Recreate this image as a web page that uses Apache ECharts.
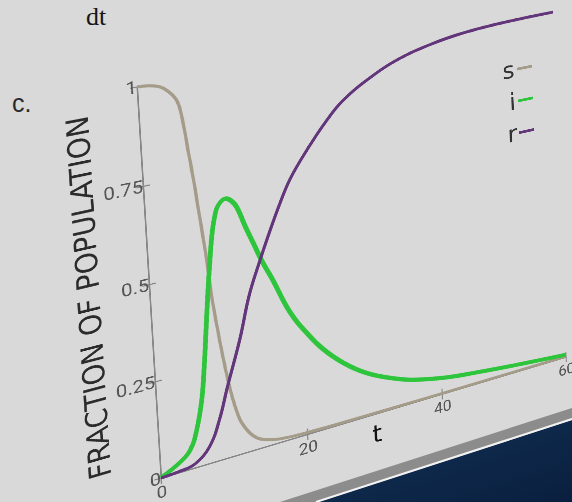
<!DOCTYPE html>
<html>
<head>
<meta charset="utf-8">
<script src="https://cdn.jsdelivr.net/npm/echarts@6/dist/echarts.min.js"></script>
<style>
html, body { margin: 0; padding: 0; width: 572px; height: 502px; overflow: hidden; background: #d9d9d9; }
#bg { position: absolute; left: 0; top: 0; }
#chart { position: absolute; left: 0; top: 0; transform-origin: 0 0; }
</style>
</head>
<body>
<svg id="bg" width="572" height="502" xmlns="http://www.w3.org/2000/svg">
  <defs>
    <linearGradient id="sea" x1="0" y1="0" x2="1" y2="1">
      <stop offset="0" stop-color="#123258"/>
      <stop offset="1" stop-color="#0a1f3e"/>
    </linearGradient>
  </defs>
  <text x="86" y="25" font-family="Liberation Serif, serif" font-size="26" fill="#151515">dt</text>
  <text x="12" y="112" font-family="Liberation Sans, Arial, sans-serif" font-size="25" fill="#2a2a2a">c.</text>
  <polygon points="280,502 572,408 572,419 316,502" fill="#8c8c8c"/>
  <polygon points="318,502 572,420 572,502" fill="url(#sea)"/>
  <line x1="316" y1="502" x2="572" y2="419" stroke="#f2f2f2" stroke-width="2"/>
</svg>
<div id="chart"></div>
<script>
// ---- data ----
const xTicks = [0, 20, 40, 60];
const yTicks = [0, 0.25, 0.5, 0.75, 1];

const tS = [0, 2.5, 4, 5, 5.5, 6, 6.5, 7, 7.5, 8, 8.5, 9, 9.5, 10, 10.5, 11, 12, 13, 14, 16, 20, 30, 40, 50, 60];
const sVals = [1, 0.993, 0.973, 0.945, 0.90, 0.82, 0.74, 0.645, 0.55, 0.43, 0.345, 0.27, 0.205, 0.152, 0.112, 0.083, 0.05, 0.03, 0.02, 0.01, 0.005, 0.003, 0.002, 0.002, 0.002];

const tI = [0, 2.5, 4, 5, 5.9, 6.5, 7, 7.5, 8, 8.5, 9, 9.5, 10.5, 11.3, 12, 13, 14, 15, 16.3, 18.4, 20.6, 23.3, 26.5, 29.7, 33.6, 36, 40.8, 46, 51.3, 56.8, 60];
const iVals = [0.001, 0.025, 0.05, 0.097, 0.172, 0.26, 0.35, 0.44, 0.52, 0.59, 0.635, 0.66, 0.674, 0.665, 0.645, 0.59, 0.54, 0.49, 0.435, 0.34, 0.272, 0.206, 0.15, 0.11, 0.077, 0.062, 0.043, 0.031, 0.021, 0.012, 0.007];

const tR = [0, 2.5, 4.5, 6.6, 8.1, 9.4, 11.4, 13, 14.7, 16.3, 17.9, 19.5, 22, 24.7, 27.4, 31.4, 35.8, 40.8, 45.7, 51.8, 60];
const rVals = [0, 0.003, 0.01, 0.045, 0.108, 0.187, 0.301, 0.41, 0.493, 0.565, 0.632, 0.69, 0.755, 0.816, 0.865, 0.911, 0.947, 0.971, 0.985, 0.993, 0.997];

const seriesNames = ['s', 'i', 'r'];

// ---- layout / style (not data) ----
const S = 2; // supersampling factor of the flat chart before it is projected
const CW = 560 * S, CH = 520 * S;
const GRID = { left: 100 * S, top: 60 * S, width: 420 * S, height: 390 * S };
// page positions of the plot frame corners: (t0,y0), (tMax,y0), (tMax,yMax), (t0,yMax)
const QUAD = [[161, 478], [566, 357], [553, 11], [137, 87]];
const COLORS = { s: '#a49c89', i: '#2ec53c', r: '#63357a' };
const AXIS_COLOR = '#888888';

function sq2quad(q) {
  const [x0, y0] = q[0], [x1, y1] = q[1], [x2, y2] = q[2], [x3, y3] = q[3];
  const sx = x0 - x1 + x2 - x3, sy = y0 - y1 + y2 - y3;
  const dx1 = x1 - x2, dx2 = x3 - x2, dy1 = y1 - y2, dy2 = y3 - y2;
  const den = dx1 * dy2 - dx2 * dy1;
  const g = (sx * dy2 - dx2 * sy) / den, h = (dx1 * sy - sx * dy1) / den;
  return { a: x1 - x0 + g * x1, b: x3 - x0 + h * x3, c: x0,
           d: y1 - y0 + g * y1, e: y3 - y0 + h * y3, f: y0, g, h };
}
function frameTransform() {
  const m = sq2quad(QUAD);
  const L = GRID.left, T = GRID.top, W = GRID.width, H = GRID.height;
  const A = m.a / W, B = -m.b / H, C = m.c - m.a * L / W + m.b * (T + H) / H;
  const D = m.d / W, E = -m.e / H, F = m.f - m.d * L / W + m.e * (T + H) / H;
  const G = m.g / W, HH = -m.h / H, K = 1 - m.g * L / W + m.h * (T + H) / H;
  return `matrix3d(${A},${D},0,${G},${B},${E},0,${HH},0,0,1,0,${C},${F},0,${K})`;
}

const el = document.getElementById('chart');
el.style.width = CW + 'px';
el.style.height = CH + 'px';
el.style.transform = frameTransform();

const chart = echarts.init(el, null, { renderer: 'svg', width: CW, height: CH });

const pairs = (ts, vs) => ts.map((t, k) => [t, vs[k]]);
const axisLine = { show: true, lineStyle: { color: AXIS_COLOR, width: 1.4 * S } };
const axisTick = { show: true, inside: true, length: 6 * S, lineStyle: { color: AXIS_COLOR, width: 1.2 * S } };
const FONT = 'DejaVu Sans, sans-serif';
const NUMFONT = 'Roboto, sans-serif';

chart.setOption({
  animation: false,
  backgroundColor: 'transparent',
  grid: Object.assign({ outerBoundsMode: 'none', containLabel: false }, GRID),
  legend: {
    data: seriesNames,
    orient: 'vertical',
    left: 460 * S, top: 103 * S,
    align: 'right',
    icon: 'rect',
    itemWidth: 17 * S, itemHeight: 3 * S, itemGap: 9 * S,
    padding: 0,
    selectedMode: false,
    textStyle: { fontSize: 26 * S, color: '#333', fontFamily: FONT, lineHeight: 26 * S, width: 14 * S, align: 'right' }
  },
  xAxis: [{
    type: 'value', min: xTicks[0], max: xTicks[xTicks.length - 1], interval: xTicks[1] - xTicks[0],
    position: 'bottom',
    name: 't', nameLocation: 'middle', nameGap: 9 * S, nameMoveOverlap: false,
    nameTextStyle: { fontSize: 26 * S, color: '#111', fontFamily: FONT },
    axisLine, axisTick,
    axisLabel: { fontSize: 17 * S, color: '#555', margin: 6 * S, fontFamily: NUMFONT },
    splitLine: { show: false }
  }, {
    type: 'value', min: xTicks[0], max: xTicks[xTicks.length - 1], interval: xTicks[1] - xTicks[0],
    position: 'top', axisLine, axisTick,
    axisLabel: { show: false }, splitLine: { show: false }
  }],
  yAxis: [{
    type: 'value', min: yTicks[0], max: yTicks[yTicks.length - 1], interval: yTicks[1] - yTicks[0],
    position: 'left',
    name: 'FRACTION OF POPULATION', nameLocation: 'middle', nameGap: 40 * S, nameRotate: 90, nameMoveOverlap: false,
    nameTextStyle: { fontSize: 26.5 * S, color: '#2b2b2b', fontFamily: FONT },
    axisLine, axisTick,
    axisLabel: { fontSize: 18 * S, color: '#555', margin: 0, fontFamily: NUMFONT },
    splitLine: { show: false }
  }, {
    type: 'value', min: yTicks[0], max: yTicks[yTicks.length - 1], interval: yTicks[1] - yTicks[0],
    position: 'right', axisLine, axisTick,
    axisLabel: { show: false }, splitLine: { show: false }
  }],
  series: [
    { name: 's', type: 'line', data: pairs(tS, sVals), symbol: 'none', smooth: 0.4,
      lineStyle: { color: COLORS.s, width: 3 * S }, itemStyle: { color: COLORS.s }, z: 2 },
    { name: 'i', type: 'line', data: pairs(tI, iVals), symbol: 'none', smooth: 0.4,
      lineStyle: { color: COLORS.i, width: 4.5 * S }, itemStyle: { color: COLORS.i }, z: 3 },
    { name: 'r', type: 'line', data: pairs(tR, rVals), symbol: 'none', smooth: 0.4,
      lineStyle: { color: COLORS.r, width: 3.2 * S }, itemStyle: { color: COLORS.r }, z: 4 }
  ]
});
</script>
</body>
</html>
